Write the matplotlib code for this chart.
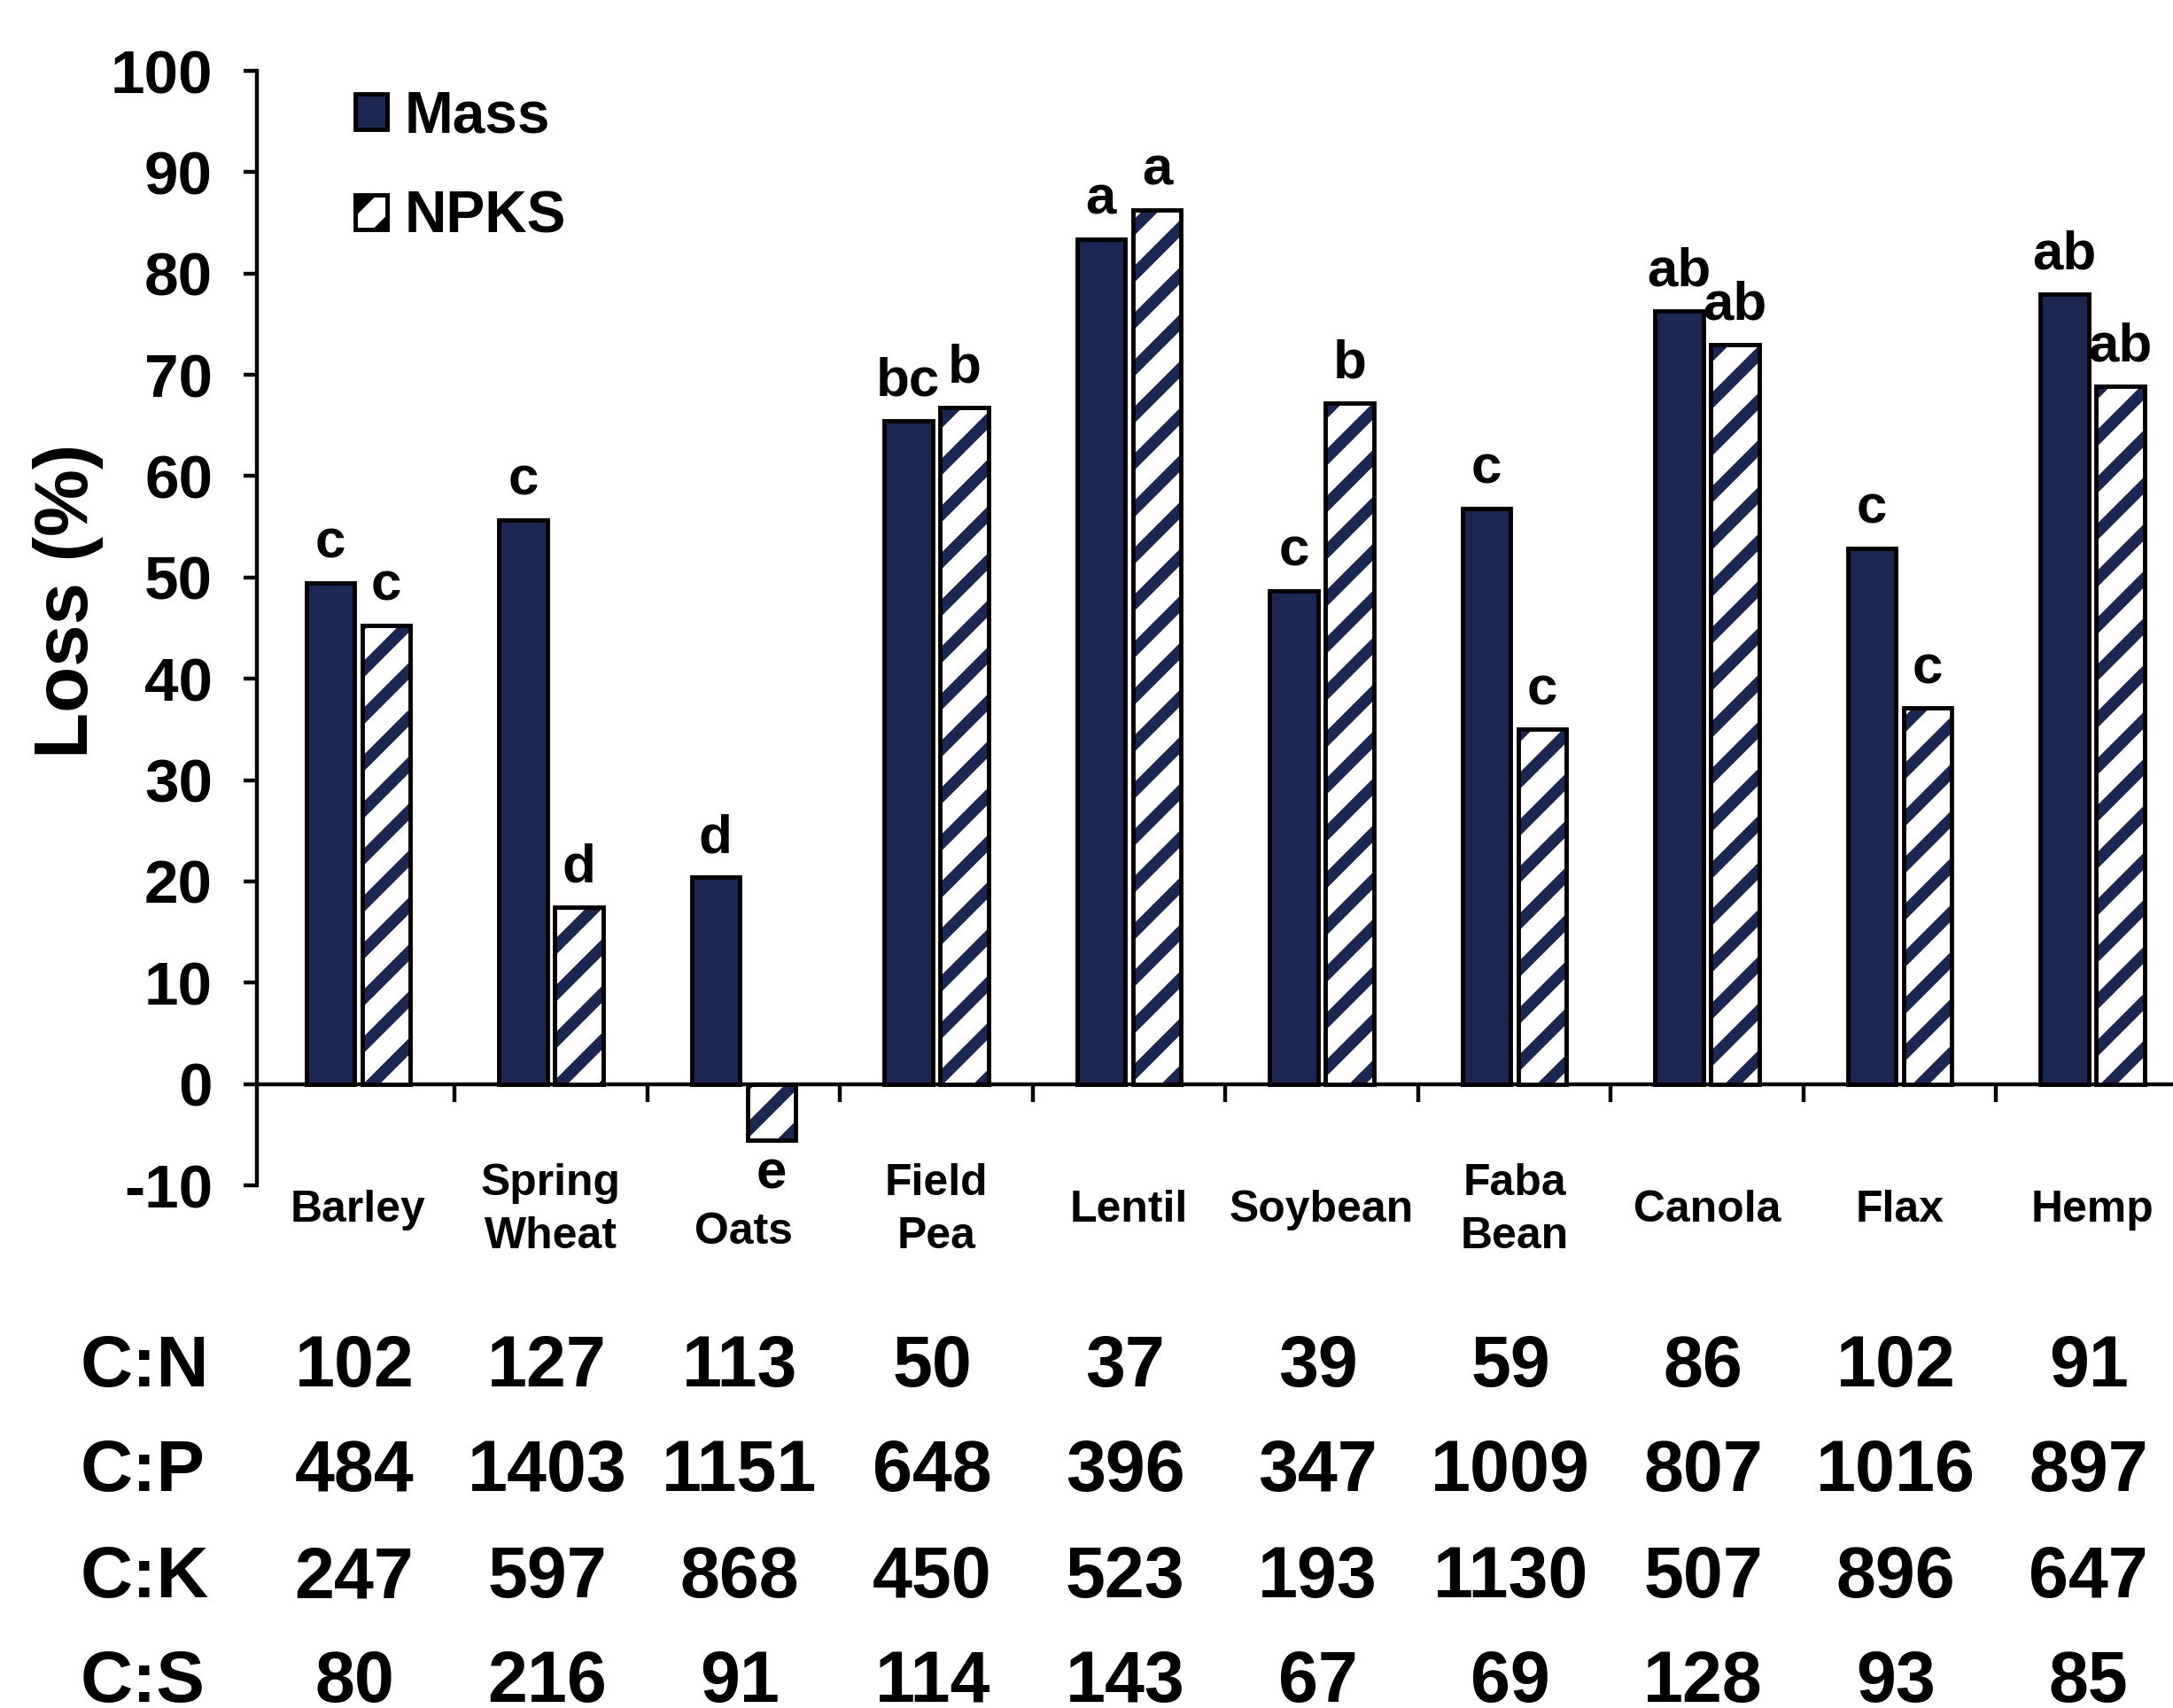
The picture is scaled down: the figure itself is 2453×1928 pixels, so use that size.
import numpy as np
import matplotlib
matplotlib.use('Agg')
from matplotlib import pyplot as plt
from matplotlib import transforms
from matplotlib.patches import Patch

# 作物ごとの分解率 (%)
crops = ['Barley', 'Spring\nWheat', 'Oats', 'Field\nPea', 'Lentil',
         'Soybean', 'Faba\nBean', 'Canola', 'Flax', 'Hemp']
mass_loss = [49.5, 55.7, 20.4, 65.5, 83.4, 48.7, 56.8, 76.3, 52.9, 78.0]
npks_loss = [45.3, 17.5, -5.5, 66.8, 86.3, 67.2, 35.0, 73.0, 37.1, 68.9]
mass_letters = ['c', 'c', 'd', 'bc', 'a', 'c', 'c', 'ab', 'c', 'ab']
npks_letters = ['c', 'd', 'e', 'b', 'a', 'b', 'c', 'ab', 'c', 'ab']

# 残渣の元素比
ratio_names = ['C:N', 'C:P', 'C:K', 'C:S']
c_n = [102, 127, 113, 50, 37, 39, 59, 86, 102, 91]
c_p = [484, 1403, 1151, 648, 396, 347, 1009, 807, 1016, 897]
c_k = [247, 597, 868, 450, 523, 193, 1130, 507, 896, 647]
c_s = [80, 216, 91, 114, 143, 67, 69, 128, 93, 85]

navy = '#1b2651'
dpi = 318

plt.rcParams['font.family'] = ['Liberation Sans', 'DejaVu Sans']
plt.rcParams['font.weight'] = 'bold'
plt.rcParams['axes.unicode_minus'] = False
plt.rcParams['hatch.linewidth'] = 3.0

fig = plt.figure(figsize=(2453 / dpi, 1928 / dpi), dpi=dpi)
ax = fig.add_axes([0.1182, 0.306, 0.8818, 0.6525])

x = np.arange(len(crops))
w = 0.25
off = 0.145

ax.bar(x - off, mass_loss, w, color=navy, edgecolor='black', linewidth=1.1, zorder=3)
# 斜線の塗りと黒枠を分けて描く
ax.bar(x + off, npks_loss, w, color='white', edgecolor=navy, hatch='//', linewidth=0, zorder=3)
ax.bar(x + off, npks_loss, w, fill=False, edgecolor='black', linewidth=1.1, zorder=4)

# 有意差の文字
for i in range(len(crops)):
    ax.annotate(mass_letters[i], (x[i] - off, mass_loss[i]), xytext=(0, 6.4),
                textcoords='offset points', ha='center', va='baseline', fontsize=14)
    if npks_loss[i] >= 0:
        ax.annotate(npks_letters[i], (x[i] + off, npks_loss[i]), xytext=(0, 6.4),
                    textcoords='offset points', ha='center', va='baseline', fontsize=14)
    else:
        ax.annotate(npks_letters[i], (x[i] + off, npks_loss[i]), xytext=(0, -2.5),
                    textcoords='offset points', ha='center', va='top', fontsize=14)

# 作物名 (負の棒の下は文字を避けて一段下げる)
for i, name in enumerate(crops):
    yy = -14.6 if npks_loss[i] < 0 else -12.45
    ax.text(x[i], yy, name, ha='center', va='center', fontsize=11.3,
            linespacing=1.37, clip_on=False)

ax.set_xlim(-0.526, 9.418)
ax.set_ylim(-10, 100)
ax.set_yticks(np.arange(-10, 101, 10))
ax.set_xticks(np.arange(0.5, 9, 1))
ax.set_xticklabels([])
ax.tick_params(axis='y', labelsize=15.7, length=3.5, width=1.0, pad=7.8)
ax.tick_params(axis='x', length=4.6, width=1.0, direction='out')
ax.spines['top'].set_visible(False)
ax.spines['right'].set_visible(False)
ax.spines['bottom'].set_position(('data', 0))
ax.spines['left'].set_linewidth(1.0)
ax.spines['bottom'].set_linewidth(1.0)
ax.set_ylabel('Loss (%)', fontsize=19.3, fontweight='bold')
ax.yaxis.set_label_coords(-0.080, 0.524)

handles = [Patch(facecolor=navy, edgecolor='black', linewidth=1.1),
           Patch(facecolor='white', edgecolor=navy, hatch='//', linewidth=1.1)]
leg = ax.legend(handles, ['Mass', 'NPKS'], loc='upper left', frameon=False,
                bbox_to_anchor=(0.024, 1.03), fontsize=14.9, handlelength=0.55,
                handleheight=0.55, handletextpad=0.3, labelspacing=0.78)
for h in leg.legend_handles:
    h.set_edgecolor('black')

# 元素比の表
trans = transforms.blended_transform_factory(ax.transData, fig.transFigure)
rows = [c_n, c_p, c_k, c_s]
row_y = [0.199, 0.138, 0.0755, 0.0145]
for name, vals, yy in zip(ratio_names, rows, row_y):
    fig.text(0.037, yy, name, ha='left', va='center', fontsize=18.5)
    for i, v in enumerate(vals):
        ax.text(x[i] - 0.02, yy, str(v), transform=trans, ha='center', va='center',
                fontsize=18.3, clip_on=False)

fig.savefig('out.png', dpi=dpi)
